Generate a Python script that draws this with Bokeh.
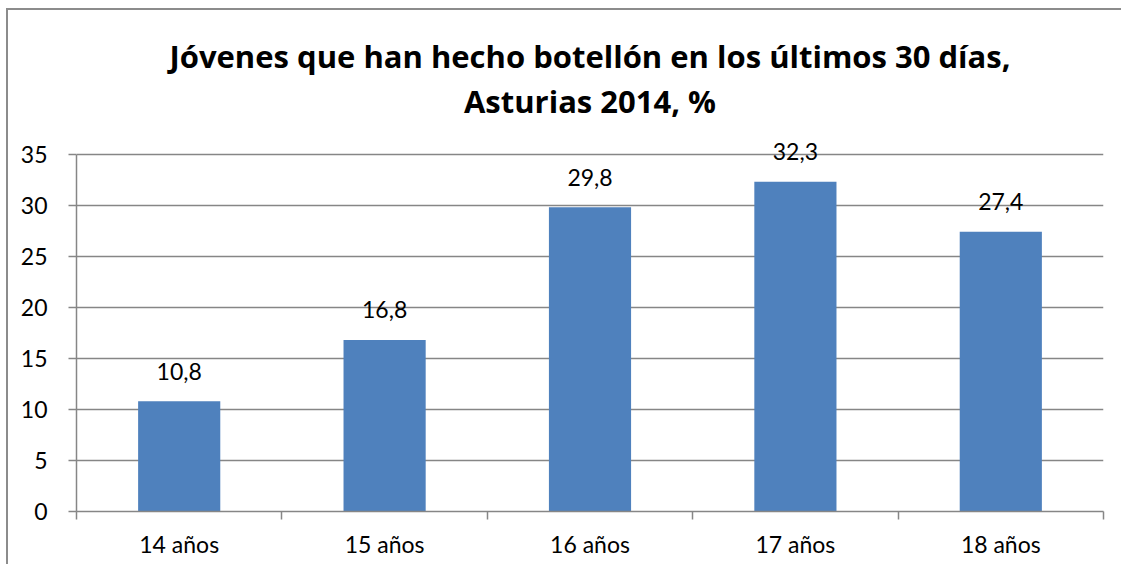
from bokeh.plotting import figure
from bokeh.models import Range1d, FixedTicker, Title, Label
from bokeh.embed import file_html
from bokeh.resources import INLINE

categories = ["14 años", "15 años", "16 años", "17 años", "18 años"]
values = [10.8, 16.8, 29.8, 32.3, 27.4]
value_labels = ["10,8", "16,8", "29,8", "32,3", "27,4"]
y_ticks = [0, 5, 10, 15, 20, 25, 30, 35]
title_line1 = "Jóvenes que han hecho botellón en los últimos 30 días,"
title_line2 = "Asturias 2014, %"

FONT = "Lato"
TFONT = "Open Sans"
GRAY = "#868686"
BAR = "#4F81BD"

xs = [i + 0.5 for i in range(len(categories))]
y_max = y_ticks[-1]

# frame extends a little above the top gridline so that value labels are not clipped
p = figure(width=1115, height=556, output_backend="svg", toolbar_location=None,
           x_range=Range1d(0, len(categories)), y_range=Range1d(0, 38),
           min_border_left=68, min_border_right=20, min_border_top=113, min_border_bottom=55)
p.background_fill_color = "white"
p.border_fill_color = "white"
p.outline_line_color = None
p.styles = {"margin-left": "6px", "margin-top": "8px",
            "border-left": "2px solid #8c8c8c", "border-top": "2px solid #8c8c8c"}

p.vbar(x=xs, top=values, width=0.4, fill_color=BAR, line_color=None)

for x, v, lab in zip(xs, values, value_labels):
    p.add_layout(Label(x=x, y=v, text=lab, text_align="center", text_baseline="alphabetic",
                       y_offset=30, text_font=FONT, text_font_size="23px", text_color="black"))

# axes
p.xaxis.ticker = FixedTicker(ticks=xs, minor_ticks=list(range(len(categories) + 1)))
p.xaxis.major_label_overrides = {x: c for x, c in zip(xs, categories)}
p.xaxis.major_tick_out = 0
p.xaxis.major_tick_in = 0
p.xaxis.minor_tick_out = 8
p.xaxis.minor_tick_in = 0
p.xaxis.minor_tick_line_color = GRAY
p.xaxis.axis_line_color = GRAY
p.xaxis.axis_line_width = 1.5
p.xaxis.minor_tick_line_width = 1.5
p.xaxis.major_label_text_font = FONT
p.xaxis.major_label_text_font_size = "23px"
p.xaxis.major_label_text_color = "black"
p.xaxis.major_label_standoff = 10

p.yaxis.ticker = FixedTicker(ticks=y_ticks)
p.yaxis.bounds = (0, y_max)
p.yaxis.major_tick_out = 8
p.yaxis.major_tick_in = 0
p.yaxis.minor_tick_line_color = None
p.yaxis.major_tick_line_color = GRAY
p.yaxis.major_tick_line_width = 1.5
p.yaxis.axis_line_color = GRAY
p.yaxis.axis_line_width = 1.5
p.yaxis.major_label_text_font = FONT
p.yaxis.major_label_text_font_size = "23px"
p.yaxis.major_label_text_color = "black"
p.yaxis.major_label_standoff = 21

p.xgrid.grid_line_color = None
p.ygrid.ticker = FixedTicker(ticks=y_ticks)
p.ygrid.grid_line_color = GRAY
p.ygrid.grid_line_width = 1.5

t2 = Title(text=title_line2, align="center", text_font=TFONT, text_font_size="31px",
           text_font_style="bold", text_color="black", standoff=3, text_line_height=0.9)
t1 = Title(text=title_line1, align="center", text_font=TFONT, text_font_size="31px",
           text_font_style="bold", text_color="black", standoff=0, text_line_height=0.9)
p.add_layout(t2, "above")
p.add_layout(t1, "above")

open("out.html", "w").write(file_html(p, INLINE))
